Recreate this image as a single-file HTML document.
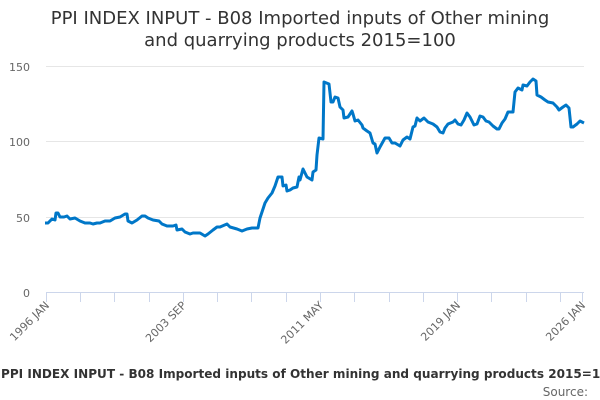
<!DOCTYPE html>
<html><head><meta charset="utf-8"><style>
html,body{margin:0;padding:0;background:#fff;width:600px;height:400px;overflow:hidden}
svg{display:block;font-family:"DejaVu Sans","Liberation Sans",sans-serif}
</style></head><body>
<svg width="600" height="400" viewBox="0 0 600 400" xmlns="http://www.w3.org/2000/svg">
<text x="300" y="24" text-anchor="middle" font-size="18" fill="#333">PPI INDEX INPUT - B08 Imported inputs of Other mining</text>
<text x="300" y="46" text-anchor="middle" font-size="18" fill="#333">and quarrying products 2015=100</text>
<g stroke="#e6e6e6" stroke-width="1">
<line x1="46" y1="66.5" x2="584" y2="66.5"/>
<line x1="46" y1="141.5" x2="584" y2="141.5"/>
<line x1="46" y1="217.5" x2="584" y2="217.5"/>
</g>
<line x1="46" y1="292.5" x2="584" y2="292.5" stroke="#ccd6eb"/>
<g stroke="#ccd6eb">
<line x1="46.5" y1="292" x2="46.5" y2="302"/><line x1="80.5" y1="292" x2="80.5" y2="302"/><line x1="114.5" y1="292" x2="114.5" y2="302"/><line x1="149.5" y1="292" x2="149.5" y2="302"/><line x1="183.5" y1="292" x2="183.5" y2="302"/><line x1="217.5" y1="292" x2="217.5" y2="302"/><line x1="251.5" y1="292" x2="251.5" y2="302"/><line x1="286.5" y1="292" x2="286.5" y2="302"/><line x1="320.5" y1="292" x2="320.5" y2="302"/><line x1="354.5" y1="292" x2="354.5" y2="302"/><line x1="389.5" y1="292" x2="389.5" y2="302"/><line x1="423.5" y1="292" x2="423.5" y2="302"/><line x1="457.5" y1="292" x2="457.5" y2="302"/><line x1="491.5" y1="292" x2="491.5" y2="302"/><line x1="526.5" y1="292" x2="526.5" y2="302"/><line x1="560.5" y1="292" x2="560.5" y2="302"/><line x1="582.5" y1="292" x2="582.5" y2="302"/>
</g>
<g font-size="11" fill="#666" text-anchor="end">
<text x="30" y="71">150</text><text x="30" y="146">100</text><text x="30" y="222">50</text><text x="30" y="297">0</text>
</g>
<g font-size="11" fill="#666" text-anchor="end">
<text transform="translate(50,306) rotate(-45)">1996 JAN</text>
<text transform="translate(187,306) rotate(-45)">2003 SEP</text>
<text transform="translate(324,306) rotate(-45)">2011 MAY</text>
<text transform="translate(461,306) rotate(-45)">2019 JAN</text>
<text transform="translate(586,306) rotate(-45)">2026 JAN</text>
</g>
<polyline fill="none" stroke="#0077c8" stroke-width="3" stroke-linejoin="round" points="45,223 48,223 52,219 55,220 56,213 58,213 60,217 64,217 67,216 70,219 75,218 80,221 85,223 90,223 93,224 97,223 100,223 105,221 110,221 115,218 120,217 125,214 127,214 128,221 132,223 137,220 142,216 145,216 148,218 153,220 159,221 162,224 167,226 173,226 176,225 177,230 182,229 185,232 190,234 193,233 200,233 205,236 208,234 213,230 217,227 220,227 227,224 230,227 237,229 242,231 247,229 252,228 257,228 258,228 260,218 262,212 265,203 268,198 272,193 275,186 278,177 282,177 283,186 286,185 287,191 290,190 293,188 297,187 299,177 300,180 303,169 307,177 312,180 313,172 316,170 317,155 319,138 323,139 324,82 329,84 331,102 333,102 335,97 338,98 340,107 343,110 344,118 348,117 352,111 353,114 355,121 358,120 362,125 363,128 367,131 370,133 373,143 375,144 377,153 380,147 385,138 389,138 392,143 395,143 400,146 403,140 407,137 410,139 413,127 415,126 417,118 420,121 424,118 428,122 433,124 437,127 440,132 443,133 445,128 448,124 453,122 455,120 458,124 461,125 464,120 467,113 470,117 474,125 477,124 480,116 483,117 486,121 489,122 493,126 497,129 499,129 502,123 505,119 508,112 513,112 515,92 518,88 522,90 523,85 527,86 530,82 533,79 536,81 537,95 541,97 545,100 548,102 553,103 557,107 559,110 563,107 566,105 569,108 571,127 573,127 577,124 580,121 584,123"/>
<text x="1" y="378" font-size="12" font-weight="bold" fill="#333" textLength="616" lengthAdjust="spacingAndGlyphs">PPI INDEX INPUT - B08 Imported inputs of Other mining and quarrying products 2015=100</text>
<text x="588" y="396" text-anchor="end" font-size="12" fill="#666">Source:</text>
</svg>
</body></html>
